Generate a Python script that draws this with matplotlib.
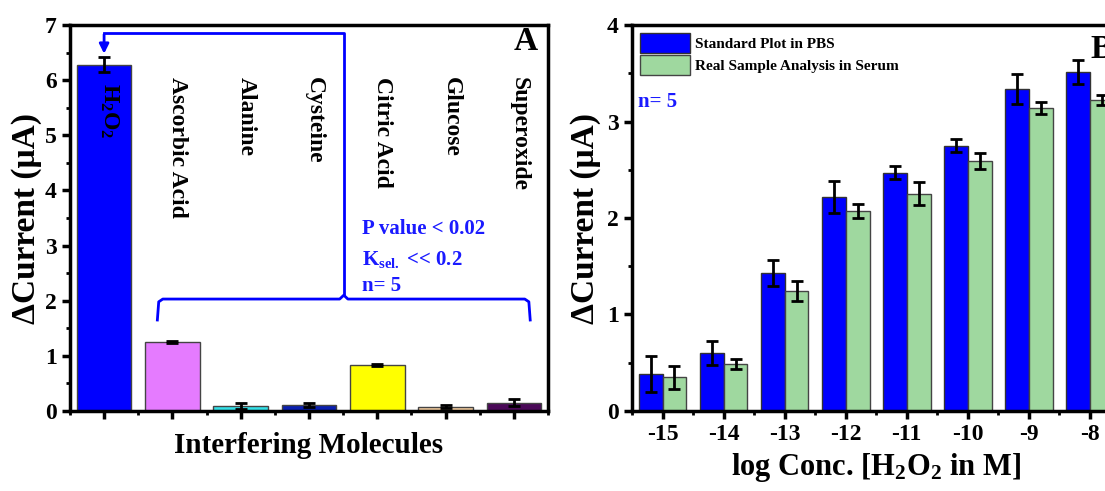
import matplotlib.pyplot as plt
import numpy as np
from matplotlib.ticker import MultipleLocator

plt.rcParams['font.family'] = 'Liberation Serif'
plt.rcParams['font.weight'] = 'bold'
plt.rcParams['mathtext.fontset'] = 'custom'
plt.rcParams['mathtext.rm'] = 'Liberation Serif:bold'
plt.rcParams['mathtext.it'] = 'Liberation Serif:bold'
plt.rcParams['mathtext.bf'] = 'Liberation Serif:bold'

# Panel A data
molecules = ['H$_2$O$_2$', 'Ascorbic Acid', 'Alanine', 'Cysteine',
             'Citric Acid', 'Glucose', 'Superoxide']
current_a = [6.28, 1.25, 0.09, 0.11, 0.84, 0.08, 0.15]
err_a = [0.14, 0.02, 0.05, 0.03, 0.02, 0.02, 0.065]
colors_a = ['#0000ff', '#e57bff', '#33e0e8', '#0a1fb0',
            '#ffff00', '#f7cfa0', '#4a0858']

# Panel B data
log_conc = [-15, -14, -13, -12, -11, -10, -9, -8]
pbs = [0.38, 0.60, 1.43, 2.22, 2.47, 2.75, 3.34, 3.51]
pbs_err = [0.185, 0.127, 0.137, 0.165, 0.065, 0.068, 0.155, 0.125]
serum = [0.35, 0.49, 1.24, 2.07, 2.25, 2.59, 3.14, 3.22]
serum_err = [0.12, 0.05, 0.105, 0.075, 0.12, 0.08, 0.065, 0.05]

blue_txt = '#1a1aff'

fig = plt.figure(figsize=(11.05, 4.91), dpi=100)
ax1 = fig.add_axes([0.0633, 0.163, 0.4326, 0.786])
ax2 = fig.add_axes([0.572, 0.163, 0.442, 0.786])


def style_axes(ax):
    for sp in ax.spines.values():
        sp.set_linewidth(2.5)
    ax.tick_params(axis='both', which='major', direction='out', length=6,
                   width=2.5, labelsize=17)
    ax.tick_params(axis='both', which='minor', direction='out', length=3,
                   width=2)
    for lab in ax.get_xticklabels() + ax.get_yticklabels():
        lab.set_fontweight('bold')


# ---- Panel A ----
xa = np.arange(1, len(molecules) + 1)
ax1.bar(xa, current_a, width=0.8, color=colors_a, edgecolor='#444444',
        linewidth=1, yerr=err_a, capsize=4,
        error_kw=dict(elinewidth=2, capthick=2, ecolor='black'))
ax1.set_xlim(0.5, 7.5)
ax1.set_ylim(0, 7)
ax1.set_xticks(xa)
ax1.set_xticklabels([])
ax1.xaxis.set_minor_locator(MultipleLocator(1, offset=0.5))
ax1.yaxis.set_minor_locator(MultipleLocator(0.5))
style_axes(ax1)
ax1.set_ylabel('ΔCurrent (μA)', fontsize=24, fontweight='bold', labelpad=2)
ax1.set_xlabel('Interfering Molecules', fontsize=21, fontweight='bold',
               labelpad=6)

for i, name in enumerate(molecules):
    ax1.text(xa[i] + 0.08, 5.95 if i == 0 else 6.05, name, rotation=-90,
             ha='center', va='top', fontsize=17, fontweight='bold')

ax1.text(7.35, 6.7, 'A', fontsize=24, fontweight='bold', ha='right',
         va='center')

# bracket + arrow
ax1.plot([1, 4.51, 4.51], [6.86, 6.86, 2.1], color='blue', lw=2)
ax1.annotate('', xy=(1, 6.43), xytext=(1, 6.88),
             arrowprops=dict(arrowstyle='-|>', color='blue', lw=2,
                             mutation_scale=14))
brace_x = [1.78, 1.80, 1.86, 4.45, 4.51, 4.57, 7.16, 7.22, 7.24]
brace_y = [1.65, 1.98, 2.03, 2.03, 2.1, 2.03, 2.03, 1.98, 1.65]
ax1.plot(brace_x, brace_y, color='blue', lw=2)

ax1.text(4.78, 3.3, 'P value < 0.02', color=blue_txt, fontsize=15,
         fontweight='bold', va='center')
ax1.text(4.78, 2.75, 'K$_{\\mathrm{sel.}}$ << 0.2', color=blue_txt,
         fontsize=15, fontweight='bold', va='center')
ax1.text(4.78, 2.27, 'n= 5', color=blue_txt, fontsize=15,
         fontweight='bold', va='center')

# ---- Panel B ----
xb = np.array(log_conc)
w = 0.39
ax2.bar(xb - w / 2, pbs, width=w, color='#0000ff', edgecolor='#333333',
        linewidth=1, yerr=pbs_err, capsize=4,
        error_kw=dict(elinewidth=2, capthick=2, ecolor='black'),
        label='Standard Plot in PBS')
ax2.bar(xb + w / 2, serum, width=w, color='#9fd89f', edgecolor='#444444',
        linewidth=1, yerr=serum_err, capsize=4,
        error_kw=dict(elinewidth=2, capthick=2, ecolor='black'),
        label='Real Sample Analysis in Serum')
ax2.set_xlim(-15.5, -7.5)
ax2.set_ylim(0, 4)
ax2.set_xticks(xb)
ax2.set_xticklabels([str(v) for v in log_conc])
ax2.yaxis.set_major_locator(MultipleLocator(1))
ax2.xaxis.set_minor_locator(MultipleLocator(1, offset=0.5))
ax2.yaxis.set_minor_locator(MultipleLocator(0.5))
style_axes(ax2)
ax2.set_ylabel('ΔCurrent (μA)', fontsize=24, fontweight='bold', labelpad=4)
ax2.set_xlabel('log Conc. [H$_2$O$_2$ in M]', fontsize=22,
               fontweight='bold', labelpad=4)

ax2.legend(loc='upper left', frameon=False, fontsize=11, handlelength=3.3,
           handleheight=1.7, handletextpad=0.3, labelspacing=0.1,
           borderaxespad=0.3, borderpad=0.2)
ax2.text(-15.4, 3.2, 'n= 5', color=blue_txt, fontsize=15,
         fontweight='bold', va='center')
ax2.text(-7.62, 3.75, 'B', fontsize=24, fontweight='bold', ha='right',
         va='center')

fig.savefig('out.png', dpi=100)
